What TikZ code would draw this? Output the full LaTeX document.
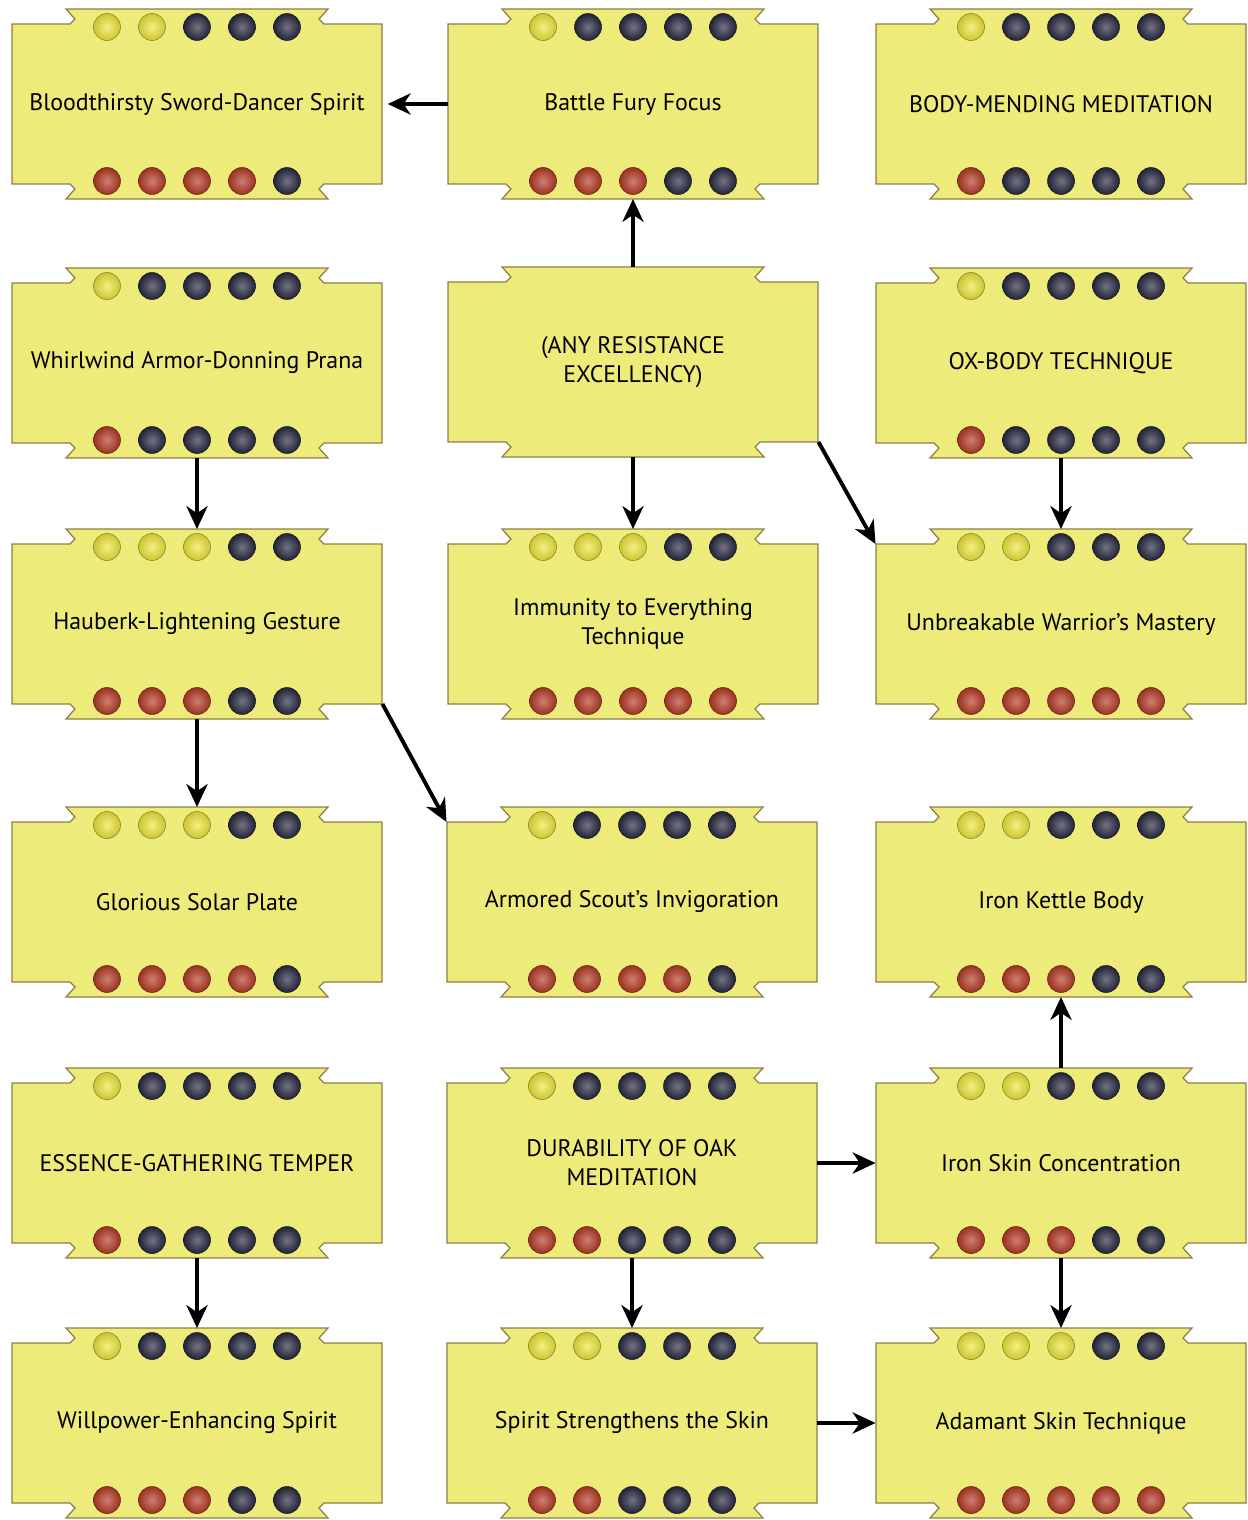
\documentclass[tikz,border=0pt]{standalone}
\usepackage{fontspec}
\usepackage{xcolor}
\usetikzlibrary{arrows.meta,positioning}
\newfontfamily\charmfont{PT Sans}
\definecolor{charmfill}{RGB}{237,235,122}
\definecolor{charmedge}{RGB}{140,126,70}
\definecolor{dotgold}{RGB}{238,232,60}
\definecolor{dotdark}{RGB}{40,40,66}
\definecolor{dotred}{RGB}{182,58,38}
\tikzset{
  charmtext/.style={shape=rectangle, minimum width=7.42cm, minimum height=3.8cm,
                    inner sep=0pt, outer sep=0pt, align=center,
                    font=\charmfont\fontsize{13.6}{16.5}\selectfont},
  boxline/.style={fill=charmfill, draw=charmedge, line width=0.7pt, line join=miter},
  arr/.style={-{Stealth[length=13pt,width=12pt,inset=4pt]}, line width=2.2pt}
}
\begin{document}
\begin{tikzpicture}[x=0.02cm,y=-0.02cm]
  \useasboundingbox (0,0) rectangle (1247,1520);
  % one charm: name, x, y, text, gold dots, red dots (-1 = none)
  \def\charm#1#2#3#4#5#6{%
    \begin{scope}[shift={(#2,#3)}]
      \filldraw[boxline] (-185,-80) -- (-127,-80) -- (-122,-85) -- (-131,-95)
        -- (131,-95) -- (122,-85) -- (127,-80) -- (185,-80) -- (185,80)
        -- (127,80) -- (122,85) -- (131,95) -- (-131,95) -- (-122,85)
        -- (-127,80) -- (-185,80) -- cycle;
      \ifnum#5<0\else
      \foreach \k in {1,...,5} {
        \pgfmathsetmacro{\dx}{(\k-3)*45}
        \ifnum\k>#5 \def\ctop{dotdark}\else\def\ctop{dotgold}\fi
        \ifnum\k>#6 \def\cbot{dotdark}\else\def\cbot{dotred}\fi
        \shade[inner color=\ctop!65!white, outer color=\ctop!85!black,
               draw=\ctop!55!black, line width=0.3pt] (\dx,-77) circle[radius=0.27cm];
        \shade[inner color=\cbot!65!white, outer color=\cbot!85!black,
               draw=\cbot!55!black, line width=0.3pt] (\dx,77) circle[radius=0.27cm];
      }
      \fi
    \end{scope}
    \node[charmtext] (#1) at (#2,#3) {#4};
  }
  \charm{blood}{197}{104}{Bloodthirsty Sword-Dancer Spirit}{2}{4}
  \charm{fury}{633}{104}{Battle Fury Focus}{1}{3}
  \charm{mending}{1061}{104}{BODY-MENDING MEDITATION}{1}{1}
  \charm{whirl}{197}{363}{Whirlwind Armor-Donning Prana}{1}{1}
  \charm{anyres}{633}{362}{(ANY RESISTANCE\\EXCELLENCY)}{-1}{-1}
  \charm{oxbody}{1061}{363}{OX-BODY TECHNIQUE}{1}{1}
  \charm{hauberk}{197}{624}{Hauberk-Lightening Gesture}{3}{3}
  \charm{immunity}{633}{624}{Immunity to Everything\\Technique}{3}{5}
  \charm{unbreak}{1061}{624}{Unbreakable Warrior’s Mastery}{2}{5}
  \charm{solar}{197}{902}{Glorious Solar Plate}{3}{4}
  \charm{scout}{632}{902}{Armored Scout’s Invigoration}{1}{4}
  \charm{kettle}{1061}{902}{Iron Kettle Body}{2}{3}
  \charm{essence}{197}{1163}{ESSENCE-GATHERING TEMPER}{1}{1}
  \charm{oak}{632}{1163}{DURABILITY OF OAK\\MEDITATION}{1}{2}
  \charm{ironskin}{1061}{1163}{Iron Skin Concentration}{2}{3}
  \charm{willpower}{197}{1423}{Willpower-Enhancing Spirit}{1}{3}
  \charm{spiritskin}{632}{1423}{Spirit Strengthens the Skin}{2}{2}
  \charm{adamant}{1061}{1423}{Adamant Skin Technique}{3}{5}

  % prerequisites
  \draw[arr, shorten >=3pt] (fury.west) -- (blood.east);
  \draw[arr] (anyres.north) -- (fury.south);
  \draw[arr] (anyres.south) -- (immunity.north);
  \draw[arr] ([yshift=0.3cm]anyres.south east) -- ([yshift=-0.3cm]unbreak.north west);
  \draw[arr] (oxbody.south) -- (unbreak.north);
  \draw[arr] (whirl.south) -- (hauberk.north);
  \draw[arr] (hauberk.south) -- (solar.north);
  \draw[arr] ([yshift=0.3cm]hauberk.south east) -- ([yshift=-0.3cm]scout.north west);
  \draw[arr] (ironskin.north) -- (kettle.south);
  \draw[arr] (oak.east) -- (ironskin.west);
  \draw[arr] (essence.south) -- (willpower.north);
  \draw[arr] (oak.south) -- (spiritskin.north);
  \draw[arr] (ironskin.south) -- (adamant.north);
  \draw[arr] (spiritskin.east) -- (adamant.west);
\end{tikzpicture}
\end{document}
